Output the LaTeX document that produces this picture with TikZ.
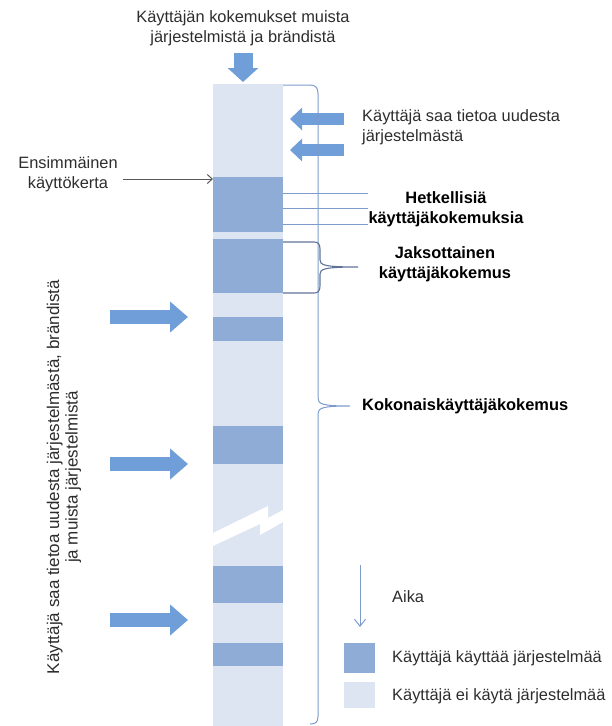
\documentclass[tikz,border=0pt]{standalone}
\usepackage{fontspec}
\setmainfont{Liberation Sans}
\usetikzlibrary{arrows.meta}
\definecolor{segdark}{RGB}{143,172,214}
\definecolor{seglight}{RGB}{220,229,241}
\definecolor{blockarr}{RGB}{112,158,216}
\definecolor{bracecol}{RGB}{125,155,205}
\definecolor{bracedark}{RGB}{95,115,150}
\definecolor{txt}{RGB}{45,45,45}
\tikzset{
  lbl/.style={font=\fontsize{16.4}{20}\selectfont, inner sep=0pt, text=txt},
  blbl/.style={font=\fontsize{16.4}{20}\selectfont\bfseries, inner sep=0pt, text=black},
  usebox/.style={fill=segdark},
  idlebox/.style={fill=seglight},
  bracestyle/.style={draw=bracecol, line width=1pt},
}
\begin{document}
\begin{tikzpicture}[x=1pt,y=-1pt]
\useasboundingbox (0,0) rectangle (611,726);
% timeline bar
\fill[seglight] (213,84) rectangle (283,726);
\fill[segdark] (213,177) rectangle (283,232);
\fill[segdark] (213,239) rectangle (283,293);
\fill[segdark] (213,317) rectangle (283,341);
\fill[segdark] (213,426) rectangle (283,464);
\fill[segdark] (213,566) rectangle (283,603);
\fill[segdark] (213,643) rectangle (283,666);
% break mark
\fill[white] (213,533) -- (268,506) -- (268,518) -- (283,510) -- (283,522) -- (260,535) -- (260,524) -- (213,546) -- cycle;
\coordinate (s1) at (213,179);
\coordinate (bartop) at (243,82);
% texts
\node[lbl, align=center] (toptext) at (243,28) {Käyttäjän kokemukset muista\\järjestelmistä ja brändistä};
\node[lbl, align=left, anchor=west] (info) at (362,127) {Käyttäjä saa tietoa uudesta\\järjestelmästä};
\node[lbl, align=center] (ens) at (68,174) {Ensimmäinen\\käyttökerta};
\node[blbl, align=center] (hetk) at (446,209) {Hetkellisiä\\käyttäjäkokemuksia};
\node[blbl, align=center] (jaks) at (445,264) {Jaksottainen\\käyttäjäkokemus};
\node[blbl, anchor=west] (koko) at (362,406) {Kokonaiskäyttäjäkokemus};
\node[lbl, font=\fontsize{17}{18.5}\selectfont, rotate=90, align=center] (side) at (64,477) {Käyttäjä saa tietoa uudesta järjestelmästä, brändistä\\ja muista järjestelmistä};
\node[lbl, anchor=west] (aika) at (392,597) {Aika};
\node[lbl, anchor=west] (leg1) at (392,658) {Käyttäjä käyttää järjestelmää};
\node[lbl, anchor=west] (leg2) at (392,696) {Käyttäjä ei käytä järjestelmää};
% legend boxes
\node[usebox, minimum width=31pt, minimum height=30pt, inner sep=0pt] (box1) at (359.5,658) {};
\node[idlebox, minimum width=31pt, minimum height=26pt, inner sep=0pt] (box2) at (359.5,695) {};
% block arrows
\coordinate (ta0) at (243,53);
\draw[draw=blockarr, line width=19pt, -{Triangle[width=30pt,length=14pt]}] (ta0) -- (bartop);
\coordinate (ra1) at (344,119); \coordinate (rt1) at (290,119);
\coordinate (ra2) at (344,150); \coordinate (rt2) at (290,150);
\draw[draw=blockarr, line width=12pt, -{Triangle[width=22pt,length=12pt]}] (ra1) -- (rt1);
\draw[draw=blockarr, line width=12pt, -{Triangle[width=22pt,length=12pt]}] (ra2) -- (rt2);
\foreach \y/\n in {317/1,464/2,620/3}{
  \coordinate (la\n) at (110,\y); \coordinate (lt\n) at (188,\y);
  \draw[draw=blockarr, line width=14pt, -{Triangle[width=30pt,length=18pt]}] (la\n) -- (lt\n);
}
% first use arrow
\draw[draw=black!65, line width=1pt, -{Straight Barb[length=5pt,width=9pt]}] ([xshift=5pt]ens.east |- s1) -- (s1);
% momentary lines
\foreach \y in {193,208,224}{
  \draw[draw=bracecol, line width=1pt] (283,\y) -- (368,\y);
}
% big brace
\draw[bracestyle] (283,85) -- (310,85) .. controls (316,85) and (318,88) .. (318,94) -- (318,398)
  .. controls (318,404) and (322,406) .. (350,406) .. controls (322,406) and (318,408) .. (318,414)
  -- (318,716) .. controls (318,722) and (316,724) .. (310,724);
% small brace
\draw[draw=bracedark, line width=1.1pt] (283,242) -- (314,242) .. controls (318,242) and (320,244) .. (320,249) -- (320,260)
  .. controls (320,265) and (324,267) .. (358,267) .. controls (324,267) and (320,269) .. (320,274)
  -- (320,286) .. controls (320,291) and (318,293) .. (314,293) -- (283,293);
% time arrow
\coordinate (t0) at (360,565); \coordinate (t1) at (360,627);
\draw[draw=bracecol, line width=1pt, -{Straight Barb[length=7pt,width=11pt]}] (t0) -- (t1);
\end{tikzpicture}
\end{document}
